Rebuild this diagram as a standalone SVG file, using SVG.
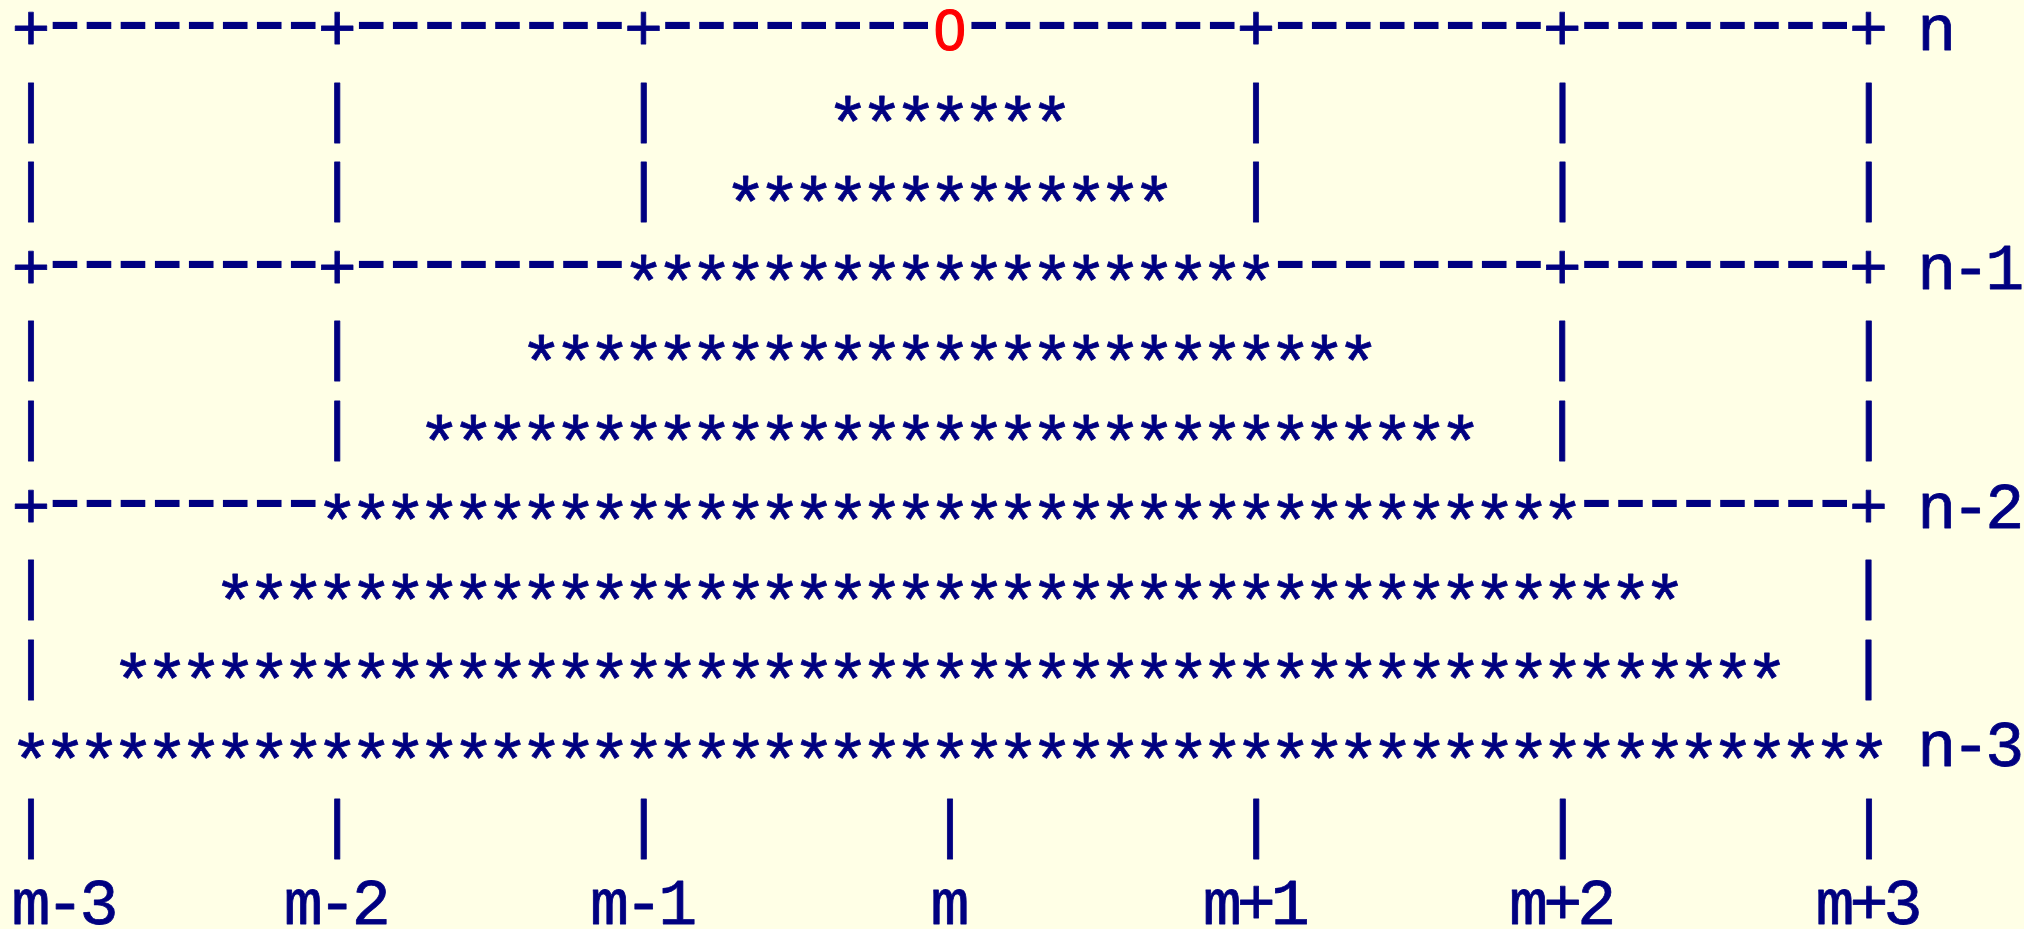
<svg xmlns="http://www.w3.org/2000/svg" width="2024" height="929" viewBox="0 0 2024 929" xml:space="preserve">
<style>
text { font-family: "Liberation Mono", "DejaVu Sans Mono", monospace; font-size: 65px; letter-spacing: -4.97px; fill: #000080; stroke: #000080; stroke-width: 0.8px; stroke-linejoin: round; white-space: pre; }
.s { font-size: 72px; letter-spacing: -9.17px; }
.d { font-size: 90px; letter-spacing: -19.97px; stroke-width: 0; }
.red { font-family: "Liberation Sans", Arial, sans-serif; font-size: 57px; letter-spacing: 0; fill: #ff0000; stroke: #ff0000; stroke-width: 1.2px; }
</style>
<rect x="0" y="0" width="2024" height="929" fill="#ffffe6"/>
<g id="row0"><text y="50"><tspan x="11.5" y="50">+</tspan><tspan class="d" x="38.05" y="50">--------</tspan><tspan x="317.77" y="50">+</tspan><tspan class="d" x="344.32" y="50">--------</tspan><tspan x="624.04" y="50">+</tspan><tspan class="d" x="650.59" y="50">--------</tspan><tspan class="red" x="934" y="50">0</tspan><tspan class="d" x="956.86" y="50">--------</tspan><tspan x="1236.58" y="50">+</tspan><tspan class="d" x="1263.13" y="50">--------</tspan><tspan x="1542.85" y="50">+</tspan><tspan class="d" x="1569.4" y="50">--------</tspan><tspan x="1849.12" y="50">+ n</tspan></text></g>
<g id="row1"><text y="129.6"><tspan x="11.5">|        |        |</tspan><tspan class="s" x="826.13" y="149.2">*******</tspan><tspan x="1236.58" y="129.6">|        |        |</tspan></text></g>
<g id="row2"><text y="209.2"><tspan x="11.5">|        |        |</tspan><tspan class="s" x="724.04" y="228.8">*************</tspan><tspan x="1236.58" y="209.2">|        |        |</tspan></text></g>
<g id="row3"><text y="288.8"><tspan x="11.5" y="288.8">+</tspan><tspan class="d" x="38.05" y="288.8">--------</tspan><tspan x="317.77" y="288.8">+</tspan><tspan class="d" x="344.32" y="288.8">--------</tspan><tspan class="s" x="621.95" y="308.4">*******************</tspan><tspan class="d" x="1263.13" y="288.8">--------</tspan><tspan x="1542.85" y="288.8">+</tspan><tspan class="d" x="1569.4" y="288.8">--------</tspan><tspan x="1849.12" y="288.8">+ n-1</tspan></text></g>
<g id="row4"><text y="368.4"><tspan x="11.5">|        |</tspan><tspan class="s" x="519.86" y="388">*************************</tspan><tspan x="1542.85" y="368.4">|        |</tspan></text></g>
<g id="row5"><text y="448"><tspan x="11.5">|        |</tspan><tspan class="s" x="417.77" y="467.6">*******************************</tspan><tspan x="1542.85" y="448">|        |</tspan></text></g>
<g id="row6"><text y="527.6"><tspan x="11.5" y="527.6">+</tspan><tspan class="d" x="38.05" y="527.6">--------</tspan><tspan class="s" x="315.68" y="547.2">*************************************</tspan><tspan class="d" x="1569.4" y="527.6">--------</tspan><tspan x="1849.12" y="527.6">+ n-2</tspan></text></g>
<g id="row7"><text y="607.2"><tspan x="11.5">|</tspan><tspan class="s" x="213.59" y="626.8">*******************************************</tspan><tspan x="1849.12" y="607.2">|</tspan></text></g>
<g id="row8"><text y="686.8"><tspan x="11.5">|</tspan><tspan class="s" x="111.5" y="706.4">*************************************************</tspan><tspan x="1849.12" y="686.8">|</tspan></text></g>
<g id="row9"><text y="766.4"><tspan class="s" x="9.41" y="786">*******************************************************</tspan><tspan x="1917.18" y="766.4">n-3</tspan></text></g>
<g id="row10"><text x="11.5" y="846">|        |        |        |        |        |        |</text></g>
<g id="row11"><text x="11.5" y="924">m-3     m-2      m-1       m       m+1      m+2      m+3</text></g>
</svg>
